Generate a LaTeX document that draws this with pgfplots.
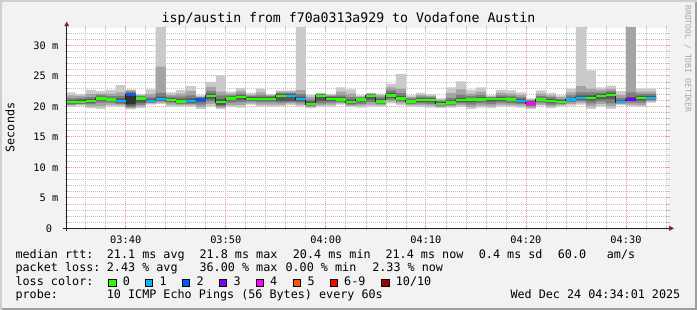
\documentclass[border=0pt]{standalone}
\usepackage{pgfplots}
\pgfplotsset{compat=1.18}
\usepackage{pgfplotstable}
\usepgfplotslibrary{fillbetween}
\usepackage{fontspec}
\setmainfont{DejaVu Sans Mono}[WordSpace={1,0,0}]
\definecolor{bg}{HTML}{F2F2F2}
\definecolor{shadeA}{HTML}{CFCFCF}
\definecolor{shadeB}{HTML}{9E9E9E}
\definecolor{sm1}{HTML}{CACACA}
\definecolor{sm2}{HTML}{A4A4A4}
\definecolor{sm3}{HTML}{7E7E7E}
\definecolor{sm4}{HTML}{585858}
\definecolor{sm5}{HTML}{323232}
\definecolor{lc0}{HTML}{26FF00}
\definecolor{lc1}{HTML}{00B8FF}
\definecolor{lc2}{HTML}{0059FF}
\definecolor{lc3}{HTML}{7E00FF}
\definecolor{lc4}{HTML}{FF00FF}
\definecolor{lc5}{HTML}{FF5500}
\definecolor{lc6}{HTML}{FF0000}
\definecolor{lc10}{HTML}{A10000}
\definecolor{gridc}{HTML}{C4C4C4}
\definecolor{mgridc}{HTML}{E6A0A0}
\definecolor{arrowc}{HTML}{801F1F}
\definecolor{axisc}{HTML}{1F1F1F}
\definecolor{medc}{HTML}{202020}
\newcommand\titlef{\fontsize{13.2pt}{15pt}\selectfont}
\newcommand\axisf{\fontsize{10.3pt}{12pt}\selectfont}
\newcommand\legf{\fontsize{11.75pt}{14pt}\selectfont}
\newcommand\wmf{\fontsize{8.1pt}{9pt}\selectfont}

\pgfplotstableread{
t p1 p2 p3 p4 p5 p6 p7 p8 p9 p10 m
34 19.9 20.2 20.3 20.5 20.6 20.8 21.0 21.3 21.8 22.3 20.7
35 20.1 20.3 20.4 20.5 20.6 20.8 21.1 21.4 21.7 22.0 20.7
36 19.7 20.0 20.4 20.6 20.8 21.0 21.2 21.5 22.0 22.7 20.9
37 19.6 20.0 20.6 21.0 21.2 21.4 21.6 21.9 22.1 22.5 21.3
38 20.0 20.3 20.6 20.9 21.0 21.2 21.4 21.7 22.1 22.7 21.1
39 19.9 20.2 20.4 20.6 20.8 21.0 21.3 21.7 22.3 23.5 20.9
40 19.5 19.7 19.9 20.1 20.4 21.9 22.2 22.4 22.6 22.8 21.9
41 19.7 20.0 20.3 20.6 21.2 21.4 21.5 21.7 21.8 22.0 21.3
42 20.3 20.5 20.6 20.7 20.8 21.0 21.2 21.5 22.0 22.8 20.9
43 20.4 20.6 20.8 21.0 21.1 21.3 21.6 22.2 26.5 40 21.2
44 20.0 20.3 20.6 20.8 20.9 21.1 21.3 21.6 21.9 22.3 21.0
45 20.0 20.2 20.4 20.6 20.7 20.9 21.2 21.6 22.1 22.7 20.8
46 19.9 20.2 20.4 20.6 20.8 21.0 21.3 21.8 22.5 23.3 20.9
47 19.6 19.9 20.3 20.7 21.0 21.2 21.3 21.5 21.6 21.8 21.1
48 20.0 20.4 20.8 21.2 21.6 21.8 22.1 22.5 23.2 24.0 21.7
49 19.6 19.8 20.0 20.2 20.6 20.8 21.2 21.8 22.4 25.1 20.7
50 19.9 20.2 20.6 21.0 21.2 21.4 21.6 21.8 22.1 22.4 21.3
51 19.8 20.2 20.7 21.1 21.4 21.6 21.8 22.1 22.5 23.0 21.5
52 20.3 20.5 20.8 21.0 21.1 21.3 21.5 21.7 21.9 22.2 21.2
53 20.0 20.3 20.7 21.0 21.1 21.3 21.5 21.8 22.3 22.9 21.2
54 20.0 20.3 20.7 21.0 21.1 21.3 21.5 21.7 21.8 22.0 21.2
55 20.0 20.3 20.6 20.9 21.6 21.8 22.0 22.2 22.4 22.6 21.7
56 20.2 20.5 20.7 20.9 21.6 21.8 22.0 22.2 22.4 22.6 21.7
57 20.0 20.3 20.6 20.9 21.1 21.3 21.6 22.0 22.7 40 21.2
58 19.7 19.9 20.1 20.2 20.3 20.5 20.8 21.1 21.5 21.9 20.35
59 19.9 20.2 20.5 20.9 21.6 21.8 21.9 22.0 22.1 22.2 21.7
60 20.0 20.3 20.6 20.9 21.1 21.3 21.5 21.7 21.8 22.0 21.2
61 20.3 20.5 20.7 20.9 21.0 21.2 21.5 21.8 22.4 23.1 21.1
62 19.9 20.1 20.3 20.5 20.6 20.8 21.1 21.5 22.1 22.8 20.7
63 19.8 20.1 20.4 20.8 21.0 21.2 21.3 21.5 21.6 21.8 21.1
64 20.0 20.3 20.7 21.1 21.6 21.8 21.9 22.0 22.1 22.2 21.7
65 20.0 20.2 20.4 20.6 20.7 20.9 21.2 21.5 21.8 22.1 20.8
66 20.5 20.8 21.1 21.4 21.7 21.9 22.2 22.6 23.1 23.7 21.8
67 20.2 20.5 20.8 21.0 21.2 21.4 21.7 22.2 22.9 25.3 21.3
68 20.0 20.2 20.4 20.6 20.7 20.9 21.1 21.3 21.5 21.8 20.8
69 19.9 20.2 20.5 20.7 20.9 21.1 21.3 21.6 21.9 22.2 21.0
70 19.8 20.1 20.4 20.7 20.9 21.1 21.3 21.5 21.7 22.0 21.0
71 19.7 19.9 20.1 20.2 20.3 20.5 20.7 20.9 21.1 21.3 20.4
72 19.8 20.0 20.2 20.4 20.5 20.7 21.0 21.4 22.2 23.1 20.6
73 19.9 20.2 20.5 20.7 20.9 21.1 21.4 21.9 22.8 24.1 21.0
74 19.6 19.9 20.3 20.7 21.0 21.2 21.4 21.7 22.1 22.7 21.1
75 19.8 20.1 20.5 20.8 21.0 21.2 21.5 21.9 22.4 23.1 21.1
76 19.7 20.0 20.4 20.8 21.1 21.3 21.4 21.5 21.6 21.8 21.2
77 20.0 20.3 20.6 20.9 21.1 21.3 21.5 21.8 22.2 22.7 21.2
78 19.9 20.2 20.5 20.8 21.0 21.2 21.4 21.7 22.1 22.6 21.1
79 19.8 20.1 20.4 20.6 20.8 21.0 21.2 21.5 21.9 22.3 20.9
80 19.6 19.8 20.0 20.2 20.4 20.6 20.8 21.0 21.1 21.3 20.5
81 20.1 20.3 20.6 20.9 21.0 21.2 21.4 21.7 22.1 22.6 21.1
82 19.7 20.0 20.3 20.6 20.8 21.0 21.2 21.5 21.8 22.2 20.9
83 20.0 20.2 20.4 20.6 20.7 20.8 21.0 21.2 21.5 21.8 20.75
84 20.1 20.4 20.7 20.9 21.0 21.2 21.4 21.8 22.3 22.9 21.1
85 20.3 20.6 20.9 21.1 21.3 21.5 21.8 22.3 23.3 40 21.4
86 19.6 20.0 20.5 21.0 21.3 21.5 21.8 22.3 22.9 25.9 21.4
87 20.0 20.4 20.8 21.2 21.6 21.8 22.0 22.3 22.7 23.1 21.7
88 19.6 20.0 20.5 21.2 21.8 22.0 22.2 22.5 22.9 23.4 21.9
89 20.2 20.4 20.5 20.6 20.65 20.8 21.0 21.4 21.9 22.5 20.7
90 20.0 20.3 20.6 20.9 21.0 21.2 21.5 22.3 40 40 21.1
91 19.9 20.2 20.6 21.0 21.3 21.5 21.7 22.0 22.4 22.9 21.4
92 20.6 20.8 21.0 21.2 21.3 21.5 21.7 22.0 22.4 22.9 21.4
93 20.6 20.8 21.0 21.2 21.3 21.5 21.7 22.0 22.4 22.9 21.4
}\smoke

\begin{document}
\begin{tikzpicture}[x=1pt,y=1pt]
\pgfplotsset{set layers=standard}
\begin{pgfonlayer}{axis background}
\fill[bg] (0,0) rectangle (697,310);
\fill[shadeA] (0,0) rectangle (2,310);
\fill[shadeA] (0,308) rectangle (697,310);
\fill[shadeB] (695,0) rectangle (697,308);
\fill[shadeB] (2,0) rectangle (697,2);
\fill[white] (66.7,81.7) rectangle (668.0,282.3);
\end{pgfonlayer}

\begin{axis}[
  name=ax,
  at={(66.7pt,81.7pt)}, anchor=south west,
  scale only axis, width=601.3pt, height=200.6pt,
  xmin=34.1, xmax=94.2, ymin=0, ymax=32.9,
  axis line style={draw=none},
  xtick={40,50,60,70,80,90},
  xticklabels={03:40,03:50,04:00,04:10,04:20,04:30},
  minor xtick={36,38,42,44,46,48,52,54,56,58,62,64,66,68,72,74,76,78,82,84,86,88,92,94},
  ytick={0,5,10,15,20,25,30},
  yticklabels={0\phantom{0},5 m,10 m,15 m,20 m,25 m,30 m},
  minor ytick={1,2,3,4,6,7,8,9,11,12,13,14,16,17,18,19,21,22,23,24,26,27,28,29,31,32},
  grid=both,
  minor grid style={draw=gridc, line width=0.7pt, dash pattern=on 1pt off 1pt},
  major grid style={draw=mgridc, line width=0.8pt, dash pattern=on 1pt off 1pt},
  tick align=center, major tick length=4pt, minor tick length=4pt,
  major tick style={draw=mgridc, line width=0.8pt},
  minor tick style={draw=gridc, line width=0.7pt},
  xticklabel style={font=\axisf, anchor=north, inner sep=0pt, yshift=-5.8pt},
  yticklabel style={font=\axisf, anchor=east, inner sep=0pt, xshift=-6.2pt},
]
\addplot[name path=P1, draw=none, const plot mark left, forget plot] table[x=t,y=p1]{\smoke};
\addplot[name path=P2, draw=none, const plot mark left, forget plot] table[x=t,y=p2]{\smoke};
\addplot[name path=P3, draw=none, const plot mark left, forget plot] table[x=t,y=p3]{\smoke};
\addplot[name path=P4, draw=none, const plot mark left, forget plot] table[x=t,y=p4]{\smoke};
\addplot[name path=P5, draw=none, const plot mark left, forget plot] table[x=t,y=p5]{\smoke};
\addplot[name path=P6, draw=none, const plot mark left, forget plot] table[x=t,y=p6]{\smoke};
\addplot[name path=P7, draw=none, const plot mark left, forget plot] table[x=t,y=p7]{\smoke};
\addplot[name path=P8, draw=none, const plot mark left, forget plot] table[x=t,y=p8]{\smoke};
\addplot[name path=P9, draw=none, const plot mark left, forget plot] table[x=t,y=p9]{\smoke};
\addplot[name path=P10, draw=none, const plot mark left, forget plot] table[x=t,y=p10]{\smoke};
\addplot[fill=sm1] fill between[of=P1 and P10];
\addplot[fill=sm2] fill between[of=P2 and P9];
\addplot[fill=sm3] fill between[of=P3 and P8];
\addplot[fill=sm4] fill between[of=P4 and P7];
\addplot[fill=sm5] fill between[of=P5 and P6];
\addplot[medc, line width=1pt, const plot mark left, mark=none] table[x=t,y=m]{\smoke};
\addplot[lc0, line width=2.4pt, mark=none, unbounded coords=jump] coordinates {
(34,20.7)(35,20.7)(35,nan)(35,20.7)(36,20.7)(36,nan)(36,20.9)(37,20.9)(37,nan)
(37,21.3)(38,21.3)(38,nan)(38,21.1)(39,21.1)(39,nan)(41,21.3)(42,21.3)(42,nan)
(44,21.0)(45,21.0)(45,nan)(45,20.8)(46,20.8)(46,nan)(48,21.7)(49,21.7)(49,nan)
(49,20.7)(50,20.7)(50,nan)(50,21.3)(51,21.3)(51,nan)(51,21.5)(52,21.5)(52,nan)
(52,21.2)(53,21.2)(53,nan)(53,21.2)(54,21.2)(54,nan)(54,21.2)(55,21.2)(55,nan)
(55,21.7)(56,21.7)(56,nan)(58,20.35)(59,20.35)(59,nan)(59,21.7)(60,21.7)(60,nan)
(60,21.2)(61,21.2)(61,nan)(61,21.1)(62,21.1)(62,nan)(62,20.7)(63,20.7)(63,nan)
(63,21.1)(64,21.1)(64,nan)(64,21.7)(65,21.7)(65,nan)(65,20.8)(66,20.8)(66,nan)
(66,21.8)(67,21.8)(67,nan)(67,21.3)(68,21.3)(68,nan)(68,20.8)(69,20.8)(69,nan)
(69,21.0)(70,21.0)(70,nan)(70,21.0)(71,21.0)(71,nan)(71,20.4)(72,20.4)(72,nan)
(72,20.6)(73,20.6)(73,nan)(73,21.0)(74,21.0)(74,nan)(74,21.1)(75,21.1)(75,nan)
(75,21.1)(76,21.1)(76,nan)(76,21.2)(77,21.2)(77,nan)(77,21.2)(78,21.2)(78,nan)
(78,21.1)(79,21.1)(79,nan)(81,21.1)(82,21.1)(82,nan)(82,20.9)(83,20.9)(83,nan)
(83,20.75)(84,20.75)(84,nan)(86,21.4)(87,21.4)(87,nan)(87,21.7)(88,21.7)(88,nan)
(88,21.9)(89,21.9)(89,nan)(91,21.4)(92,21.4)
};
\addplot[lc1, line width=2.4pt, mark=none, unbounded coords=jump] coordinates {
(39,20.9)(40,20.9)(40,nan)(42,20.9)(43,20.9)(43,nan)(43,21.2)(44,21.2)(44,nan)
(46,20.9)(47,20.9)(47,nan)(56,21.7)(57,21.7)(57,nan)(57,21.2)(58,21.2)(58,nan)
(79,20.9)(80,20.9)(80,nan)(84,21.1)(85,21.1)(85,nan)(85,21.4)(86,21.4)(86,nan)
(89,20.7)(90,20.7)(90,nan)(92,21.4)(93,21.4)
};
\addplot[lc2, line width=2.4pt, mark=none, unbounded coords=jump] coordinates {
(40,21.9)(41,21.9)(41,nan)(47,21.1)(48,21.1)
};
\addplot[lc3, line width=2.4pt, mark=none] coordinates {(90,21.1)(91,21.1)};
\addplot[lc4, line width=2.4pt, mark=none] coordinates {(80,20.5)(81,20.5)};
\end{axis}

\draw[axisc, line width=1pt] ([xshift=-4pt]ax.south west) -- ([xshift=1.5pt]ax.south east);
\draw[axisc, line width=1pt] ([yshift=-3pt]ax.south west) -- ([yshift=1.7pt]ax.north west);
\fill[arrowc] ([xshift=1pt,yshift=-2.5pt]ax.south east) -- ([xshift=6pt]ax.south east) -- ([xshift=1pt,yshift=2.5pt]ax.south east) -- cycle;
\fill[arrowc] ([xshift=-2.5pt,yshift=1.5pt]ax.north west) -- ([yshift=6pt]ax.north west) -- ([xshift=2.5pt,yshift=1.5pt]ax.north west) -- cycle;

\node[font=\titlef, inner sep=0pt] at (348.5,290.8) {isp/austin from f70a0313a929 to Vodafone Austin};
\node[rotate=90, font=\legf, inner sep=0pt] at (10,182.5) {Seconds};
\node[rotate=-90, font=\wmf, text=black!35, inner sep=0pt] at (688,251) {RRDTOOL / TOBI OETIKER};

\begin{scope}[every node/.style={anchor=base west, inner sep=0pt, font=\legf}]
\node at (15.4,51.7) {median rtt:};
\node at (106.7,51.7) {21.1 ms avg};
\node at (199.4,51.7) {21.8 ms max};
\node at (292.7,51.7) {20.4 ms min};
\node at (385.4,51.7) {21.4 ms now};
\node at (478.7,51.7) {0.4 ms sd};
\node at (557.7,51.7) {60.0};
\node at (606.7,51.7) {am/s};
\node at (15.4,38.3) {packet loss:};
\node at (106.7,38.3) {2.43 \% avg};
\node at (199.4,38.3) {36.00 \% max};
\node at (285.4,38.3) {0.00 \% min};
\node at (372.1,38.3) {2.33 \% now};
\node at (15.4,24.7) {loss color:};
\node at (122.7,24.7) {0};
\node at (159.3,24.7) {1};
\node at (196.3,24.7) {2};
\node at (233.3,24.7) {3};
\node at (270.0,24.7) {4};
\node at (307.3,24.7) {5};
\node at (344.0,24.7) {6-9};
\node at (395.7,24.7) {10/10};
\node at (15.4,11.7) {probe:};
\node at (106.7,11.7) {10 ICMP Echo Pings (56 Bytes) every 60s};
\node[anchor=base east] at (680.5,11.7) {Wed Dec 24 04:34:01 2025};
\end{scope}
\begin{scope}[draw=black, line width=0.8pt]
\filldraw[fill=lc0] (108.7,23.3) rectangle ++(7.3,7.7);
\filldraw[fill=lc1] (145.3,23.3) rectangle ++(7.3,7.7);
\filldraw[fill=lc2] (182.3,23.3) rectangle ++(7.3,7.7);
\filldraw[fill=lc3] (219.3,23.3) rectangle ++(7.3,7.7);
\filldraw[fill=lc4] (256.0,23.3) rectangle ++(7.3,7.7);
\filldraw[fill=lc5] (293.3,23.3) rectangle ++(7.3,7.7);
\filldraw[fill=lc6] (330.0,23.3) rectangle ++(7.3,7.7);
\filldraw[fill=lc10] (381.7,23.3) rectangle ++(7.3,7.7);
\end{scope}
\pgfresetboundingbox
\path[use as bounding box] (0,0) rectangle (697,310);
\end{tikzpicture}
\end{document}
